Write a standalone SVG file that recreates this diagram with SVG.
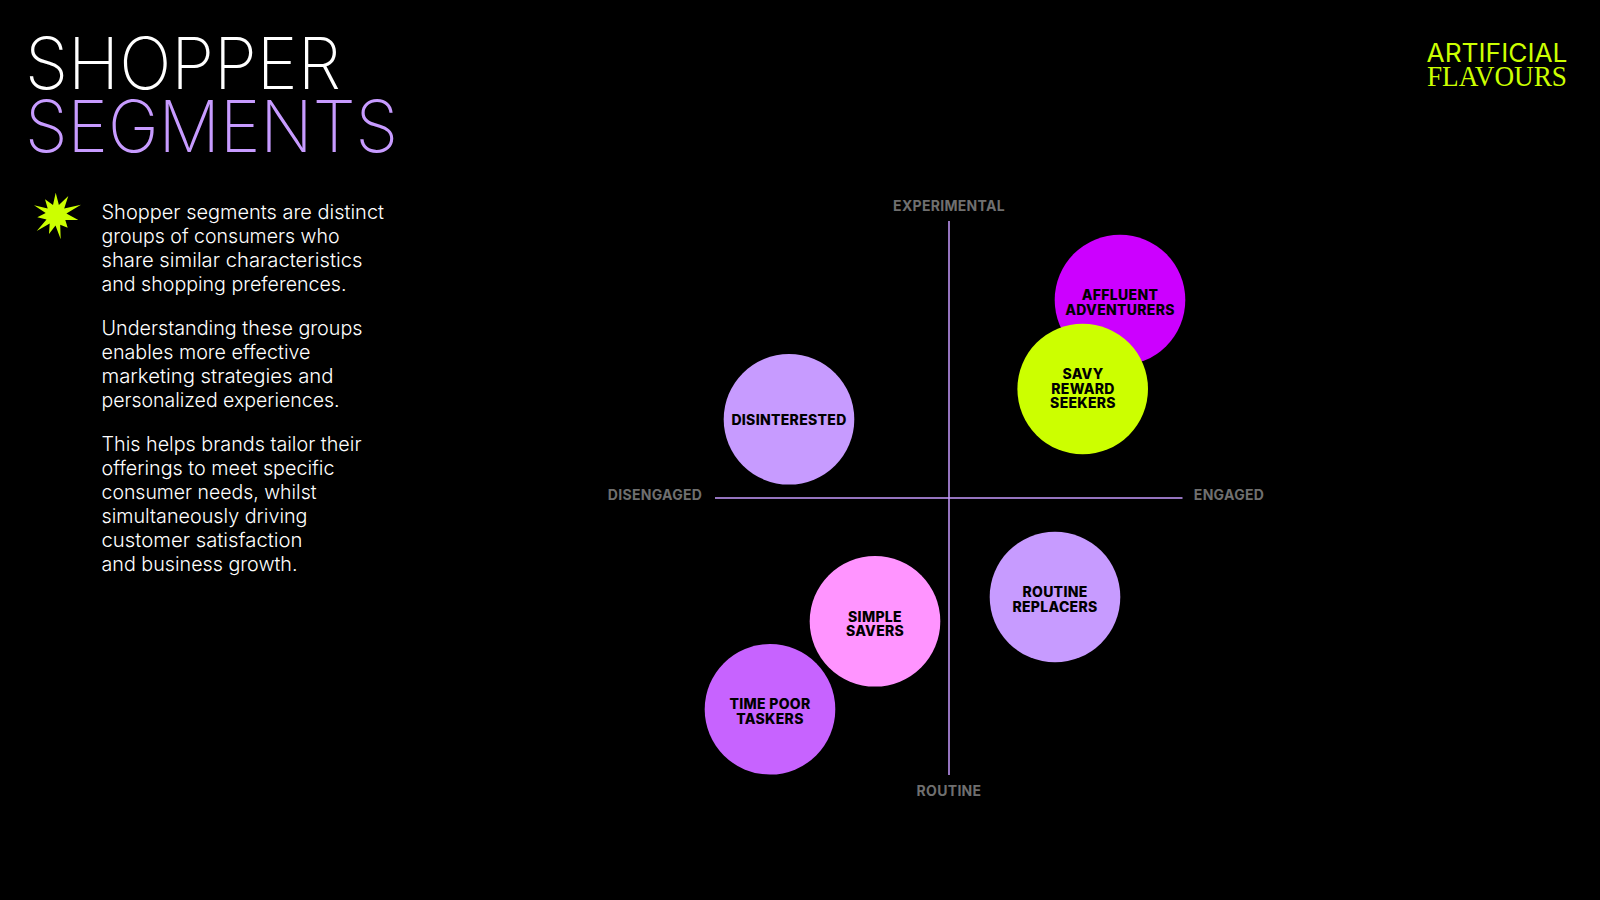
<svg xmlns="http://www.w3.org/2000/svg" width="1600" height="900" viewBox="0 0 1600 900">
<style>
.t{font-family:"Inter","Liberation Sans",sans-serif;font-weight:200;font-size:72px}
.b{font-family:"Inter","Liberation Sans",sans-serif;font-weight:300;font-size:20px;fill:#fff}
.a{font-family:"Inter","Liberation Sans",sans-serif;font-weight:700;font-size:14px;letter-spacing:.3px;fill:#6f6f6f;text-anchor:middle}
.n{font-family:"Inter","Liberation Sans",sans-serif;font-weight:800;font-size:14px;letter-spacing:.3px;fill:#000;text-anchor:middle}
.l{stroke:#c79bff;stroke-width:1.5;fill:none}
</style>
<rect width="1600" height="900" fill="#000"/>
<text class="t" x="25" y="89" fill="#fff" textLength="316" lengthAdjust="spacingAndGlyphs">SHOPPER</text>
<text class="t" x="25" y="152" fill="#c79bff" textLength="373" lengthAdjust="spacingAndGlyphs">SEGMENTS</text>
<g id="logo">
<text x="1426.500" y="62" font-family="Inter,'Liberation Sans',sans-serif" font-size="25" font-weight="400" fill="#ccff00" textLength="141" lengthAdjust="spacingAndGlyphs">ARTIFICIAL</text>
<text x="1427" y="86" font-family="'Liberation Serif',serif" font-size="29" fill="#ccff00" textLength="140" lengthAdjust="spacingAndGlyphs">FLAVOURS</text>
</g>
<polygon id="star" fill="#ccff00" points="55.700,192.700 58.900,204.900 68.300,196 64.200,208.400 81,204.700 66.400,213.600 78.300,220 65.300,219.900 67.700,227.700 60.200,224.700 60.700,239.300 55.500,225.500 49,234 49.700,223.400 36.700,231 46.500,219.500 37.300,217.300 45.700,213.100 34,205.300 47.700,208.600 45,199.300 53,204.900"/>
<g id="body">
<text class="b" x="101.500" y="219" textLength="282.500" lengthAdjust="spacingAndGlyphs">Shopper segments are distinct</text>
<text class="b" x="101.500" y="243" textLength="238" lengthAdjust="spacingAndGlyphs">groups of consumers who</text>
<text class="b" x="101.500" y="267" textLength="261" lengthAdjust="spacingAndGlyphs">share similar characteristics</text>
<text class="b" x="101.500" y="291" textLength="245" lengthAdjust="spacingAndGlyphs">and shopping preferences.</text>
<text class="b" x="101.500" y="335" textLength="261" lengthAdjust="spacingAndGlyphs">Understanding these groups</text>
<text class="b" x="101.500" y="359" textLength="209" lengthAdjust="spacingAndGlyphs">enables more effective</text>
<text class="b" x="101.500" y="383" textLength="232" lengthAdjust="spacingAndGlyphs">marketing strategies and</text>
<text class="b" x="101.500" y="407" textLength="238" lengthAdjust="spacingAndGlyphs">personalized experiences.</text>
<text class="b" x="101.500" y="451" textLength="260" lengthAdjust="spacingAndGlyphs">This helps brands tailor their</text>
<text class="b" x="101.500" y="475" textLength="233" lengthAdjust="spacingAndGlyphs">offerings to meet specific</text>
<text class="b" x="101.500" y="499" textLength="215" lengthAdjust="spacingAndGlyphs">consumer needs, whilst</text>
<text class="b" x="101.500" y="523" textLength="206" lengthAdjust="spacingAndGlyphs">simultaneously driving</text>
<text class="b" x="101.500" y="547" textLength="201" lengthAdjust="spacingAndGlyphs">customer satisfaction</text>
<text class="b" x="101.500" y="571" textLength="196" lengthAdjust="spacingAndGlyphs">and business growth.</text>
</g>
<g id="connectors">
<line class="l" x1="949" y1="221" x2="949" y2="775"/>
<line class="l" x1="715" y1="498" x2="1182.500" y2="498"/>
</g>
<g id="axis-labels">
<text class="a" x="949" y="211">EXPERIMENTAL</text>
<text class="a" x="949" y="796">ROUTINE</text>
<text class="a" x="655" y="500">DISENGAGED</text>
<text class="a" x="1229" y="500">ENGAGED</text>
</g>
<g id="affluent"><circle cx="1120" cy="300" r="65.300" fill="#cc00ff"/><text class="n" x="1120" y="300">AFFLUENT</text><text class="n" x="1120" y="314.500">ADVENTURERS</text></g>
<g id="savy"><circle cx="1082.700" cy="389" r="65.300" fill="#ccff00"/><text class="n" x="1083" y="379">SAVY</text><text class="n" x="1083" y="393.500">REWARD</text><text class="n" x="1083" y="408">SEEKERS</text></g>
<g id="disinterested"><circle cx="789" cy="419.300" r="65.300" fill="#c79bff"/><text class="n" x="789" y="424.500">DISINTERESTED</text></g>
<g id="routine"><circle cx="1055" cy="597" r="65.300" fill="#c79bff"/><text class="n" x="1055" y="597">ROUTINE</text><text class="n" x="1055" y="611.500">REPLACERS</text></g>
<g id="simple"><circle cx="875" cy="621.300" r="65.300" fill="#ff94ff"/><text class="n" x="875" y="622">SIMPLE</text><text class="n" x="875" y="636">SAVERS</text></g>
<g id="timepoor"><circle cx="770" cy="709.300" r="65.300" fill="#c763ff"/><text class="n" x="770" y="709">TIME POOR</text><text class="n" x="770" y="723.500">TASKERS</text></g>
</svg>
